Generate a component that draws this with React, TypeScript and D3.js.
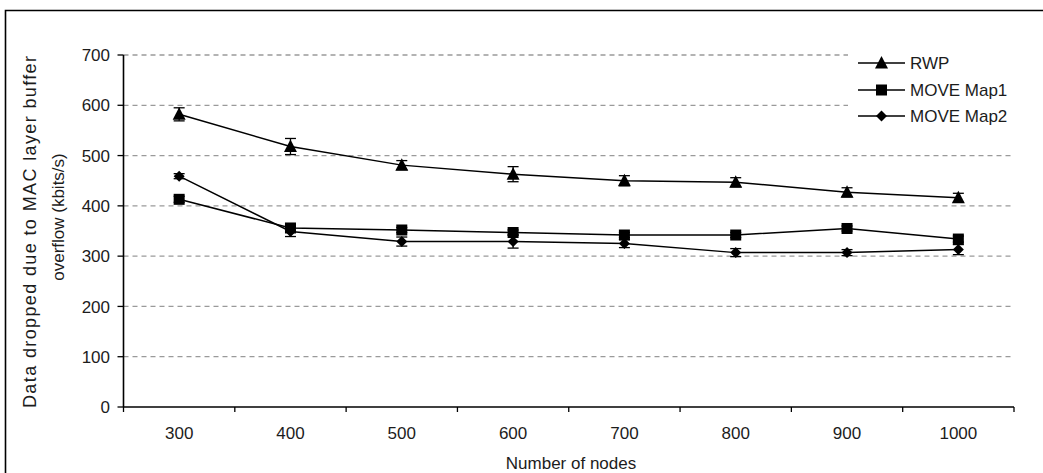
import React from "react";
import * as d3 from "d3";

// Network size categories (x axis)
const nodeCounts: string[] = ["300", "400", "500", "600", "700", "800", "900", "1000"];

// Data dropped (kbits/s) per mobility model
const rwpValues: number[] = [582, 518, 481, 463, 450, 447, 427, 416];
const rwpErrors: number[] = [13, 16, 9, 15, 10, 9, 9, 9];

const map1Values: number[] = [413, 356, 352, 347, 342, 342, 355, 334];
const map1Errors: number[] = [6, 6, 5, 5, 5, 5, 5, 6];

const map2Values: number[] = [459, 349, 329, 329, 325, 307, 307, 313];
const map2Errors: number[] = [5, 10, 9, 13, 8, 8, 6, 10];

const yTicks: number[] = [0, 100, 200, 300, 400, 500, 600, 700];

const seriesNames: string[] = ["RWP", "MOVE Map1", "MOVE Map2"];

type Shape = "triangle" | "square" | "diamond";

interface Series {
  name: string;
  values: number[];
  errors: number[];
  shape: Shape;
}

const series: Series[] = [
  { name: seriesNames[0], values: rwpValues, errors: rwpErrors, shape: "triangle" },
  { name: seriesNames[1], values: map1Values, errors: map1Errors, shape: "square" },
  { name: seriesNames[2], values: map2Values, errors: map2Errors, shape: "diamond" },
];

const W = 1043;
const H = 473;
const plot = { left: 123.5, right: 1014, top: 55, bottom: 407 };
const FONT = "'Liberation Sans', Arial, sans-serif";
const FS = 17;
const INK = "#1c1c1c";

function Marker({ shape, x, y }: { shape: Shape; x: number; y: number }) {
  if (shape === "triangle") {
    return <path d={`M${x},${y - 7} L${x + 6.5},${y + 5.5} L${x - 6.5},${y + 5.5} Z`} fill="#000" />;
  }
  if (shape === "square") {
    return <rect x={x - 5.5} y={y - 5.5} width={11} height={11} fill="#000" />;
  }
  return <path d={`M${x},${y - 5.5} L${x + 5.5},${y} L${x},${y + 5.5} L${x - 5.5},${y} Z`} fill="#000" />;
}

export default function App() {
  const x = d3.scaleBand<string>().domain(nodeCounts).range([plot.left, plot.right]).padding(0);
  const y = d3.scaleLinear().domain([0, 700]).range([plot.bottom, plot.top]);
  const cx = (c: string) => (x(c) as number) + x.bandwidth() / 2;

  const line = d3
    .line<number>()
    .x((_, i) => cx(nodeCounts[i]))
    .y((v) => y(v));

  const xBoundaries = nodeCounts.map((c) => x(c) as number).concat([plot.right]);

  const legendX = 858;
  const legendRows = [63, 90, 116];

  return (
    <svg
      width={W}
      height={H}
      style={{ position: "absolute", left: 0, top: 0, background: "#fff" }}
      fontFamily={FONT}
    >
      <rect x={0} y={0} width={W} height={H} fill="#fff" />
      {/* chart area frame */}
      <path d={`M5.5,${H + 5} L5.5,10.5 L${W + 5},10.5`} fill="none" stroke="#000" strokeWidth={1.6} />

      {/* gridlines */}
      {yTicks
        .filter((t) => t > 0)
        .map((t) => (
          <line
            key={`g${t}`}
            x1={plot.left}
            x2={plot.right}
            y1={y(t)}
            y2={y(t)}
            stroke="#9a9a9a"
            strokeWidth={1.3}
            strokeDasharray="5,4"
          />
        ))}

      {/* y axis */}
      <line x1={plot.left} x2={plot.left} y1={plot.top} y2={plot.bottom} stroke="#000" strokeWidth={1.6} />
      {yTicks.map((t) => (
        <g key={`yt${t}`}>
          <line x1={plot.left - 6} x2={plot.left} y1={y(t)} y2={y(t)} stroke="#000" strokeWidth={1.3} />
          <text x={110} y={y(t)} dy="0.36em" textAnchor="end" fontSize={FS} fill={INK}>
            {t}
          </text>
        </g>
      ))}

      {/* x axis */}
      <line x1={plot.left} x2={plot.right} y1={plot.bottom} y2={plot.bottom} stroke="#000" strokeWidth={1.6} />
      {xBoundaries.map((b, i) => (
        <line key={`xt${i}`} x1={b} x2={b} y1={plot.bottom} y2={plot.bottom + 5} stroke="#000" strokeWidth={1.3} />
      ))}
      {nodeCounts.map((c) => (
        <text key={`xl${c}`} x={cx(c)} y={433} dy="0.36em" textAnchor="middle" fontSize={FS} fill={INK}>
          {c}
        </text>
      ))}

      {/* axis titles */}
      <text x={571} y={463} dy="0.36em" textAnchor="middle" fontSize={FS} fill={INK}>
        Number of nodes
      </text>
      <text
        transform="translate(30,232) rotate(-90)"
        dy="0.36em"
        textAnchor="middle"
        fontSize={18}
        textLength={352}
        lengthAdjust="spacing"
        fill={INK}
      >
        Data dropped due to MAC layer buffer
      </text>
      <text transform="translate(58,217) rotate(-90)" dy="0.36em" textAnchor="middle" fontSize={FS} fill={INK}>
        overflow (kbits/s)
      </text>

      {/* series */}
      {series.map((s) => (
        <g key={s.name}>
          <path d={line(s.values) as string} fill="none" stroke="#000" strokeWidth={1.5} />
          {s.values.map((v, i) => {
            const px = cx(nodeCounts[i]);
            const top = y(v + s.errors[i]);
            const bot = y(v - s.errors[i]);
            return (
              <g key={i}>
                <line x1={px} x2={px} y1={top} y2={bot} stroke="#000" strokeWidth={1.3} />
                <line x1={px - 5.5} x2={px + 5.5} y1={top} y2={top} stroke="#000" strokeWidth={1.3} />
                <line x1={px - 5.5} x2={px + 5.5} y1={bot} y2={bot} stroke="#000" strokeWidth={1.3} />
                <Marker shape={s.shape} x={px} y={y(v)} />
              </g>
            );
          })}
        </g>
      ))}

      {/* legend */}
      <rect x={848} y={45} width={166} height={88} fill="#fff" />
      {series.map((s, i) => (
        <g key={`lg${s.name}`}>
          <line x1={legendX} x2={legendX + 47} y1={legendRows[i]} y2={legendRows[i]} stroke="#000" strokeWidth={1.5} />
          <Marker shape={s.shape} x={legendX + 23.5} y={legendRows[i]} />
          <text x={910} y={legendRows[i]} dy="0.36em" fontSize={FS} fill={INK}>
            {s.name}
          </text>
        </g>
      ))}
    </svg>
  );
}
